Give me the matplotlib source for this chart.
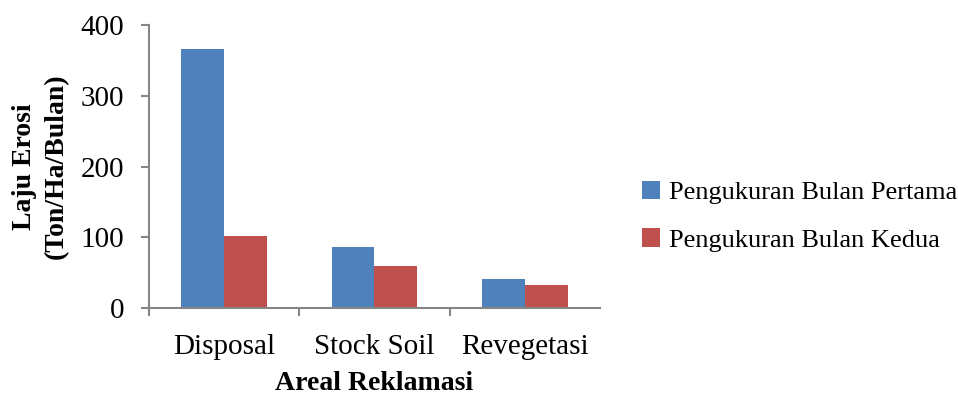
import numpy as np
import matplotlib.pyplot as plt
from matplotlib.ticker import FixedLocator

plt.rcParams['font.family'] = ['Liberation Serif', 'DejaVu Serif']

categories = ["Disposal", "Stock Soil", "Revegetasi"]
series_names = ["Pengukuran Bulan Pertama", "Pengukuran Bulan Kedua"]
bulan_pertama = [366, 86, 41]
bulan_kedua = [102, 59, 32]
colors = ["#4F81BD", "#C0504D"]

fig = plt.figure(figsize=(9.58, 3.97), dpi=100)
ax = fig.add_axes([0.1555, 0.2242, 0.4708, 0.7128])

x = np.arange(len(categories))
w = 0.285
ax.bar(x - w / 2, bulan_pertama, w, color=colors[0], label=series_names[0])
ax.bar(x + w / 2, bulan_kedua, w, color=colors[1], label=series_names[1])

ax.set_xlim(-0.5, 2.5)
ax.set_ylim(0, 400)
ax.set_yticks([0, 100, 200, 300, 400])
ax.set_xticks(x)
ax.set_xticklabels(categories)
ax.xaxis.set_minor_locator(FixedLocator([-0.5, 0.5, 1.5]))
ax.tick_params(axis='x', which='major', length=0, labelsize=21, pad=19)
ax.tick_params(axis='x', which='minor', length=6, width=1.5, color="#868686", direction='out')
ax.tick_params(axis='y', length=6, width=1.5, color="#868686", labelsize=21, pad=12)

for s in ["top", "right"]:
    ax.spines[s].set_visible(False)
for s in ["left", "bottom"]:
    ax.spines[s].set_color("#868686")
    ax.spines[s].set_linewidth(1.5)

ax.set_xlabel("Areal Reklamasi", fontsize=20, fontweight='bold', labelpad=8)
ax.set_ylabel("Laju Erosi\n(Ton/Ha/Bulan)", fontsize=20, fontweight='bold', labelpad=8, linespacing=1.4)

fig.legend(loc='center left', bbox_to_anchor=(0.645, 0.455), frameon=False,
           fontsize=19, handlelength=0.7, handleheight=0.7, handletextpad=0.35,
           labelspacing=0.9)

fig.savefig("out.png", dpi=100)
